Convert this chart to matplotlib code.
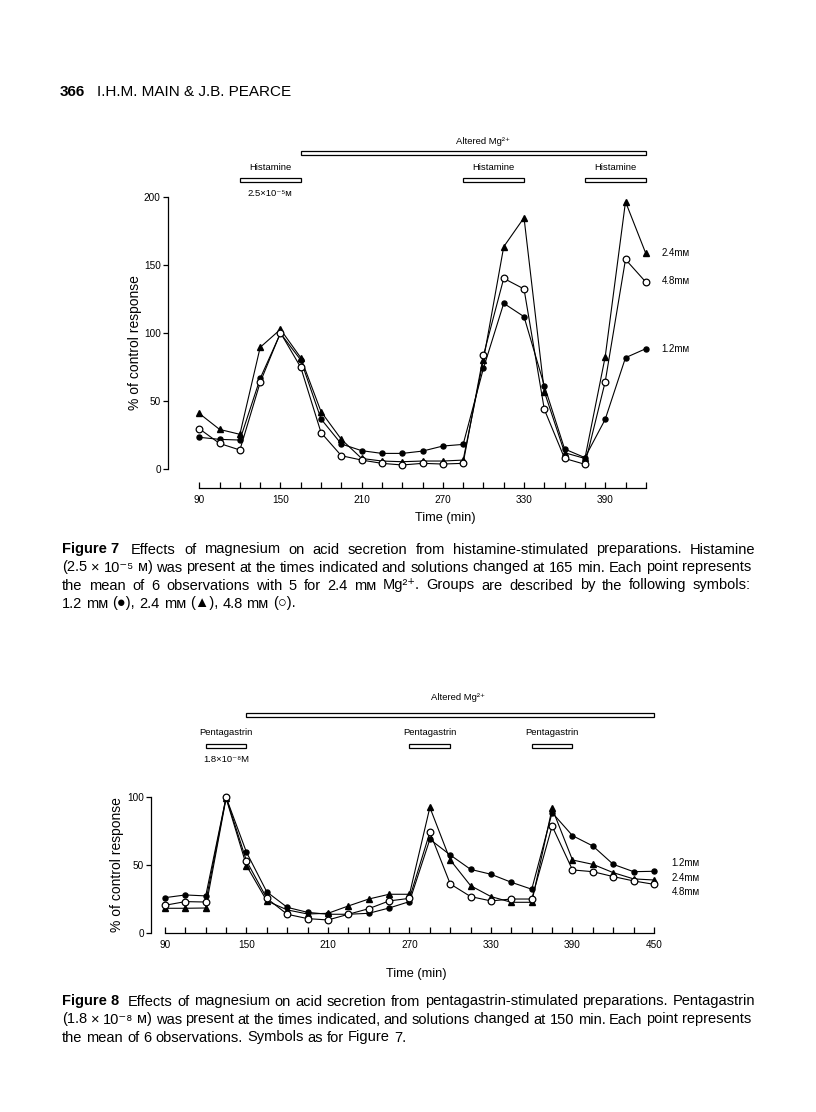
import matplotlib
matplotlib.use("Agg")
import matplotlib.pyplot as plt
from matplotlib.patches import Rectangle
from matplotlib.transforms import blended_transform_factory

plt.rcParams['font.family'] = ['Liberation Sans', 'DejaVu Sans']

W, H = 816, 1112

# Figure 7: histamine-stimulated preparations (% of control response)
t7 = [90, 105, 120, 135, 150, 165, 180, 195, 210, 225, 240, 255,
      270, 285, 300, 315, 330, 345, 360, 375, 390, 405, 420]
mg12_fig7 = [23.5, 22, 21.5, 66.7, 99.8, 80.2, 36.9, 18.6, 13.7, 11.7, 11.7, 13.4,
             17.1, 18.3, 74.1, 121.8, 112, 61.4, 14.9, 8.6, 36.7, 81.9, 88.5]
mg24_fig7 = [41, 29.3, 25.7, 89.5, 102.7, 81.9, 42.3, 22, 8, 6.1, 5.6, 6.1,
             6.1, 6.8, 80.2, 163.3, 184.6, 57, 12.2, 8, 82.6, 196.3, 158.4]
mg48_fig7 = [29.8, 19, 14.2, 63.8, 100.2, 74.8, 26.9, 10, 6.8, 4.4, 3.2, 4.4,
             3.9, 4.4, 83.6, 140.1, 132.3, 44, 8, 3.7, 64.3, 154, 137.4]
hist_periods = [(120, 165), (285, 330), (375, 420)]
mg_change7 = (165, 420)

# Figure 8: pentagastrin-stimulated preparations
t8 = [90, 105, 120, 135, 150, 165, 180, 195, 210, 225, 240, 255, 270,
      285, 300, 315, 330, 345, 360, 375, 390, 405, 420, 435, 450]
mg12_fig8 = [26.2, 28.2, 27.5, 100, 59.6, 30.4, 19.1, 15.4, 14, 14, 14.7, 18.6, 23.3,
             69.1, 57.6, 47, 43.4, 37.5, 32.4, 88.7, 71.8, 64.2, 50.7, 45.3, 45.6]
mg24_fig8 = [18.4, 18.4, 18.6, 99.3, 49.8, 23.8, 17.2, 14.2, 14.7, 20.1, 25.2, 28.7, 28.7,
             92.6, 53.9, 35, 27, 22.8, 22.8, 91.9, 53.9, 50.7, 44.6, 40, 39.2]
mg48_fig8 = [20.6, 23.3, 23, 100, 53.2, 25.7, 14, 10.8, 9.8, 14, 18.1, 23.8, 25.7,
             74.3, 36.3, 27, 23.8, 25.2, 25.2, 78.9, 46.6, 45.3, 41.7, 38.5, 36]
penta_periods = [(120, 150), (270, 300), (360, 390)]
mg_change8 = (150, 450)

fig = plt.figure(figsize=(W / 100, H / 100), dpi=100)
fig.patch.set_facecolor('white')


def fx(x):
    return x / W


def fy(y):
    return 1 - y / H


def make_axes(left, right, top, bottom):
    # page pixel box -> figure fraction
    return fig.add_axes([fx(left), fy(bottom), (right - left) / W, (bottom - top) / H])


def draw_series(ax, t, y12, y24, y48):
    kw = dict(color='black', lw=0.8, clip_on=False)
    ax.plot(t, y12, marker='o', ms=3.6, mfc='black', mec='black', zorder=3, **kw)
    ax.plot(t, y24, marker='^', ms=4.6, mfc='black', mec='black', zorder=3, **kw)
    ax.plot(t, y48, marker='o', ms=4.8, mfc='white', mec='black', mew=0.9, zorder=4, **kw)


def style_axes(ax, xticks, yticks, xbounds, ybounds, ypad):
    for s in ('top', 'right'):
        ax.spines[s].set_visible(False)
    for s in ('left', 'bottom'):
        ax.spines[s].set_linewidth(0.9)
    ax.spines['left'].set_bounds(*ybounds)
    ax.spines['bottom'].set_bounds(*xbounds)
    ax.set_xticks(xticks)
    ax.set_xticklabels([str(t) if (t - 90) % 60 == 0 else '' for t in xticks])
    ax.set_yticks(yticks)
    ax.tick_params(axis='x', direction='in', length=4, width=0.9, pad=4.6, labelsize=7.2)
    ax.tick_params(axis='y', direction='out', length=3.8, width=0.9, pad=ypad, labelsize=7.2)
    ax.patch.set_visible(False)


def add_bar(ax, t0, t1, ypx, hpx=4.0):
    tr = blended_transform_factory(ax.transData, fig.transFigure)
    fig.add_artist(Rectangle((t0, fy(ypx + hpx / 2)), t1 - t0, hpx / H, transform=tr,
                             fc='white', ec='black', lw=0.9, clip_on=False))


def add_label(ax, t, ypx, s, size=6.8):
    tr = blended_transform_factory(ax.transData, fig.transFigure)
    ax.text(t, fy(ypx), s, transform=tr, ha='center', va='center', fontsize=size)


# ---------------- Figure 7 ----------------
ax7 = make_axes(168.3, 645.8, 196.7, 488.3)
draw_series(ax7, t7, mg12_fig7, mg24_fig7, mg48_fig7)
style_axes(ax7, t7, [0, 50, 100, 150, 200], (90, 420), (0, 200), 1.6)
ax7.set_xlim(67.1, 420)
ax7.set_ylim(-13.9, 200)

add_bar(ax7, *mg_change7, 152.7)
add_label(ax7, 300, 141.7, 'Altered Mg²⁺')
for t0, t1 in hist_periods:
    add_bar(ax7, t0, t1, 180)
    add_label(ax7, (t0 + t1) / 2, 167.7, 'Histamine')
add_label(ax7, 142.5, 194, '2.5×10⁻⁵ᴍ')

fig.text(fx(135), fy(343), '% of control response', rotation=90, ha='center', va='center', fontsize=10)
fig.text(fx(445), fy(518), 'Time (min)', ha='center', va='center', fontsize=9.2)
for lab, ypx in [('2.4mᴍ', 253.3), ('4.8mᴍ', 280.7), ('1.2mᴍ', 349.3)]:
    fig.text(fx(661.7), fy(ypx), lab, ha='left', va='center', fontsize=7)

# ---------------- Figure 8 ----------------
ax8 = make_axes(150.7, 654, 797.3, 933.3)
draw_series(ax8, t8, mg12_fig8, mg24_fig8, mg48_fig8)
style_axes(ax8, t8, [0, 50, 100], (90, 450), (0, 100), 1.0)
ax8.set_xlim(79.5, 450)
ax8.set_ylim(0, 100)

add_bar(ax8, *mg_change8, 715.3)
add_label(ax8, 306, 697.3, 'Altered Mg²⁺')
for t0, t1 in penta_periods:
    add_bar(ax8, t0, t1, 746.3)
    add_label(ax8, (t0 + t1) / 2, 732.7, 'Pentagastrin')
add_label(ax8, 135, 760, '1.8×10⁻⁸M')

fig.text(fx(117), fy(865), '% of control response', rotation=90, ha='center', va='center', fontsize=10)
fig.text(fx(416), fy(974), 'Time (min)', ha='center', va='center', fontsize=9.2)
for lab, ypx in [('1.2mᴍ', 863.3), ('2.4mᴍ', 878.3), ('4.8mᴍ', 891.7)]:
    fig.text(fx(671.7), fy(ypx), lab, ha='left', va='center', fontsize=7)

# ---------------- page header and captions ----------------
fig.text(fx(60), fy(95.5), '366', fontsize=11, weight='bold', va='baseline')
fig.text(fx(97), fy(95.5), 'I.H.M. MAIN & J.B. PEARCE', fontsize=11, va='baseline')

renderer = fig.canvas.get_renderer()


def caption_line(ybase, bold_head, body, justify=True, size=10.5, x0=62, x1=755):
    words = []
    if bold_head:
        words.append((bold_head, 'bold'))
    words += [(w, 'normal') for w in body.split(' ')]
    objs = [fig.text(0, fy(ybase), w, fontsize=size, weight=wt, va='baseline') for w, wt in words]
    widths = [o.get_window_extent(renderer).width for o in objs]
    space = 0.278 * size * 100 / 72
    if justify:
        gap = max((x1 - x0 - sum(widths) - space) / (len(objs) - 1), 1.5)
    else:
        gap = space
    x = x0
    for i, (o, w) in enumerate(zip(objs, widths)):
        o.set_x(fx(x))
        x += w + gap + (space if (i == 0 and bold_head) else 0)


caption_line(553.5, 'Figure 7', 'Effects of magnesium on acid secretion from histamine-stimulated preparations. Histamine')
caption_line(571.5, None, '(2.5 × 10⁻⁵ ᴍ) was present at the times indicated and solutions changed at 165 min. Each point represents')
caption_line(589.5, None, 'the mean of 6 observations with 5 for 2.4 mᴍ Mg²⁺. Groups are described by the following symbols:')
caption_line(607.5, None, '1.2 mᴍ (●), 2.4 mᴍ (▲), 4.8 mᴍ (○).', justify=False)

caption_line(1005.5, 'Figure 8', 'Effects of magnesium on acid secretion from pentagastrin-stimulated preparations. Pentagastrin')
caption_line(1023.5, None, '(1.8 × 10⁻⁸ ᴍ) was present at the times indicated, and solutions changed at 150 min. Each point represents')
caption_line(1041.5, None, 'the mean of 6 observations. Symbols as for Figure 7.', justify=False)

fig.savefig('out.png', dpi=100)
